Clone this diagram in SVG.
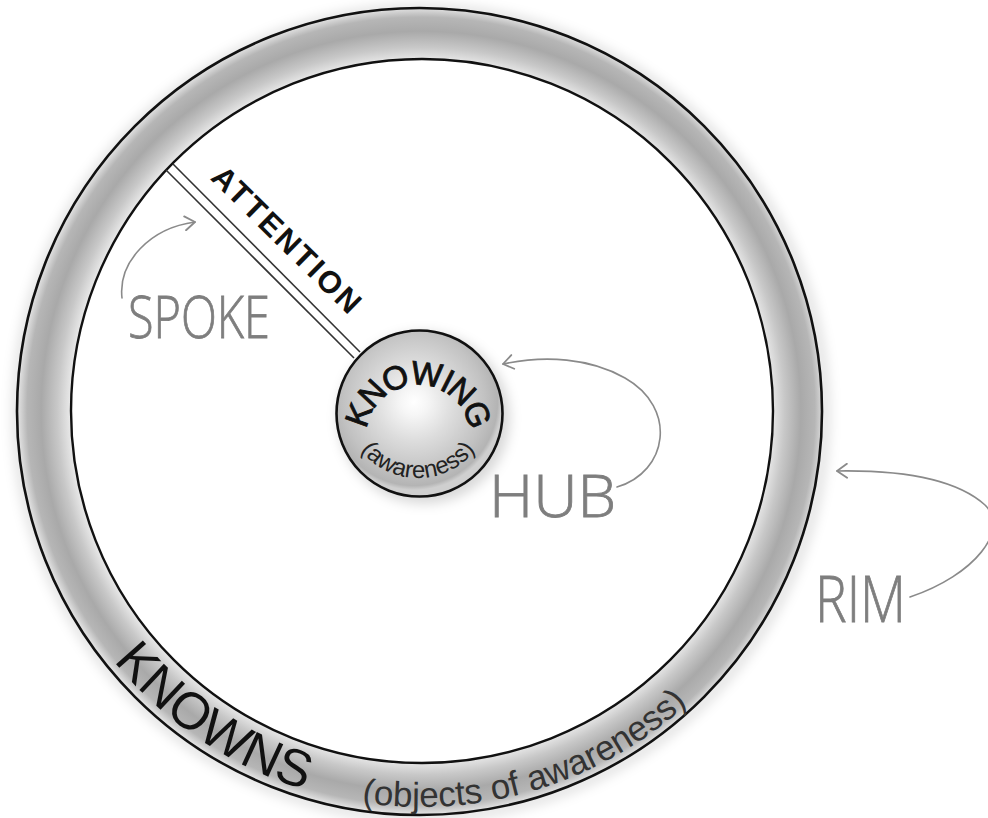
<svg xmlns="http://www.w3.org/2000/svg" width="988" height="818" viewBox="0 0 988 818">
  <style>
    .label { font-family: "Open Sans", "Liberation Sans", sans-serif; font-weight: 300; fill: #7e7e7e; stroke: #7e7e7e; stroke-width: 0.8; }
    .ink { font-family: "Liberation Sans", "DejaVu Sans", sans-serif; fill: #111; }
    .conn { fill: none; stroke: #8a8a8a; stroke-width: 1.6; stroke-linecap: round; }
  </style>
  <defs>
    <radialGradient id="rimGrad" gradientUnits="userSpaceOnUse" cx="421" cy="411" r="404">
      <stop offset="0.865" stop-color="#ececec"/>
      <stop offset="0.9" stop-color="#c8c8c8"/>
      <stop offset="0.94" stop-color="#a9a9a9"/>
      <stop offset="0.975" stop-color="#b6b6b6"/>
      <stop offset="1" stop-color="#e6e6e6"/>
    </radialGradient>
    <radialGradient id="hubGrad" gradientUnits="userSpaceOnUse" cx="414" cy="402" r="88">
      <stop offset="0" stop-color="#ffffff"/>
      <stop offset="0.15" stop-color="#f6f6f6"/>
      <stop offset="0.45" stop-color="#dcdcdc"/>
      <stop offset="0.8" stop-color="#c2c2c2"/>
      <stop offset="0.95" stop-color="#b4b4b4"/>
      <stop offset="1" stop-color="#cfcfcf"/>
    </radialGradient>
    <filter id="soft" x="-20%" y="-20%" width="140%" height="140%">
      <feGaussianBlur stdDeviation="6"/>
    </filter>
    <marker id="chev" viewBox="-12 -8 14 16" refX="0" refY="0" markerWidth="14" markerHeight="16" markerUnits="userSpaceOnUse" orient="auto">
      <path d="M-10,-7 L0,0 L-10,7" fill="none" stroke="#8a8a8a" stroke-width="1.8" stroke-linecap="round" stroke-linejoin="round"/>
    </marker>
    <path id="knownsArc" d="M25,411 A396,396 0 0 0 817,411"/>
    <path id="knowingArc" d="M366,437 A52,52 0 0 1 470,437"/>
    <path id="awarenessArc" d="M345,405 A73,73 0 0 0 491,405"/>
  </defs>

  <rect width="988" height="818" fill="#ffffff"/>

  <g id="rim">
    <circle cx="421" cy="413" r="404" fill="none" stroke="#000" stroke-opacity="0.12" stroke-width="10" filter="url(#soft)"/>
    <path d="M17,411.5 A402.5,403.5 0 1 0 822,411.5 A402.5,403.5 0 1 0 17,411.5 Z M71,411 A351,352 0 1 1 773,411 A351,352 0 1 1 71,411 Z" fill="url(#rimGrad)" fill-rule="evenodd"/>
    <ellipse cx="419.5" cy="411.5" rx="402.5" ry="403.5" fill="none" stroke="#111" stroke-width="2.6"/>
    <ellipse cx="422" cy="411" rx="351" ry="352" fill="none" stroke="#111" stroke-width="2.4"/>
    <text class="ink" font-size="52"><textPath href="#knownsArc" startOffset="270">KNOWNS</textPath></text>
    <text class="ink" font-size="35" style="fill:#333"><textPath href="#knownsArc" startOffset="562">(objects of awareness)</textPath></text>
  </g>

  <g id="spoke">
    <line x1="166" y1="170" x2="354" y2="358" stroke="#333" stroke-width="1.6"/>
    <line x1="173" y1="164" x2="360" y2="352" stroke="#333" stroke-width="1.6"/>
    <text class="ink" font-size="31" font-weight="bold" letter-spacing="2.5" text-anchor="middle" transform="translate(280,248) rotate(44.5)">ATTENTION</text>
  </g>

  <g id="hub">
    <circle cx="424" cy="418" r="86" fill="#000" fill-opacity="0.15" filter="url(#soft)"/>
    <circle cx="419.5" cy="413.5" r="83" fill="url(#hubGrad)" stroke="#111" stroke-width="2.6"/>
    <text class="ink" font-size="33" letter-spacing="-2" style="stroke:#111;stroke-width:0.9"><textPath href="#knowingArc" startOffset="50%" text-anchor="middle">KNOWING</textPath></text>
    <text class="ink" font-size="24" style="fill:#222"><textPath href="#awarenessArc" startOffset="50%" text-anchor="middle">(awareness)</textPath></text>
  </g>

  <g id="labels">
    <text id="spoke-label" class="label" x="128" y="338" font-size="58" textLength="142" lengthAdjust="spacingAndGlyphs">SPOKE</text>
    <text id="hub-label" class="label" x="489" y="517" font-size="58" textLength="127" lengthAdjust="spacingAndGlyphs">HUB</text>
    <text id="rim-label" class="label" x="815" y="622" font-size="64" textLength="91" lengthAdjust="spacingAndGlyphs">RIM</text>
  </g>

  <g id="connectors">
    <path class="conn" d="M122,298 C118,262 150,228 195,222" marker-end="url(#chev)"/>
    <path class="conn" d="M617,487 C668,472 678,408 625,378 C590,358 545,355 503,364" marker-end="url(#chev)"/>
    <path class="conn" d="M910,597 C975,575 1010,530 985,505 C955,478 900,470 837,471" marker-end="url(#chev)"/>
  </g>
</svg>
